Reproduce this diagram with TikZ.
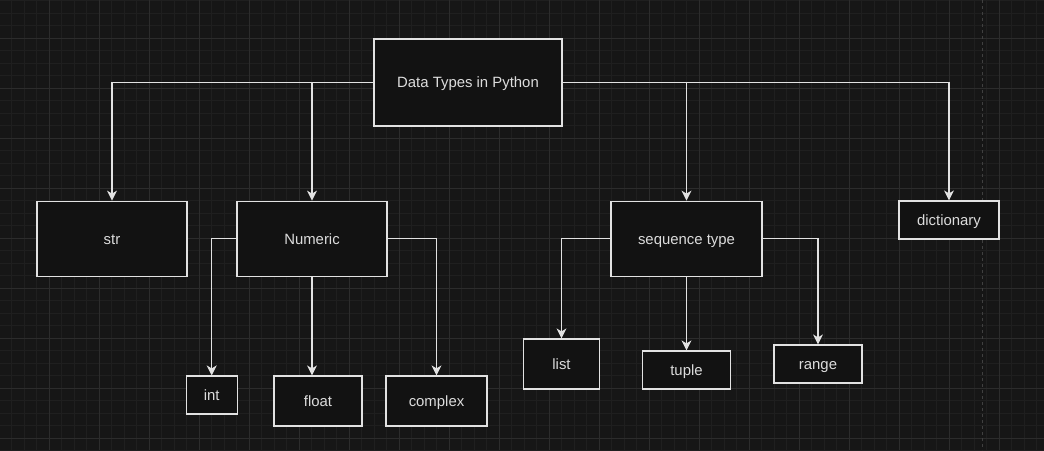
\documentclass[tikz,border=0pt]{standalone}
\usepackage{fontspec}
\setmainfont{Liberation Sans}
\usepackage{tikz}
\usetikzlibrary{arrows.meta}
\definecolor{canvas}{HTML}{161616}
\definecolor{minorline}{HTML}{1F1F1F}
\definecolor{majorline}{HTML}{2C2C2C}
\definecolor{pageline}{HTML}{404040}
\definecolor{boxfill}{HTML}{121212}
\definecolor{boxline}{HTML}{E2E2E2}
\definecolor{boxtext}{HTML}{DCDCDC}
\tikzstyle{block} = [rectangle, draw=boxline, fill=boxfill, text=boxtext,
line width=1.2pt, inner sep=0pt, text height=10.6pt, text depth=0pt,
font=\fontsize{14.9}{17}\selectfont]
\tikzstyle{pijl} = [draw=boxline, line width=1.2pt,
-{Stealth[length=10pt,width=10pt,inset=3pt]}]

\begin{document}
\begin{tikzpicture}[x=1pt, y=-1pt]
	% canvas and grid
	\fill[canvas] (0,0) rectangle (1044,450);
	\useasboundingbox (0,0) rectangle (1044,450);
	\foreach \i in {0,...,84} \draw[minorline, line width=0.8pt] ({-0.7+12.5*\i},0) -- ++(0,450);
	\foreach \i in {0,...,36} \draw[minorline, line width=0.8pt] (0,{0.8+12.5*\i}) -- ++(1044,0);
	\foreach \i in {0,...,20} \draw[majorline, line width=0.8pt] ({49.3+50*\i},0) -- ++(0,450);
	\foreach \i in {0,...,8} \draw[majorline, line width=0.8pt] (0,{38.3+50*\i}) -- ++(1044,0);
	\draw[pageline, line width=1pt, dash pattern=on 3pt off 3pt] (982.7,0) -- (982.7,450);
	
	
	\node [block, minimum width=188pt, minimum height=87pt] (types) at (468,82.5) {Data Types in Python};
	
	\node [block, minimum width=150pt, minimum height=75pt] (str) at (112,238.7) {str};
	\node [block, minimum width=150pt, minimum height=75pt] (numeric) at (312,238.7) {Numeric};
	\node [block, minimum width=151pt, minimum height=75pt] (sequence) at (686.5,238.7) {sequence type};
	\node [block, minimum width=100pt, minimum height=38pt] (dictionary) at (949,220) {dictionary};
	
	
	\node [block, minimum width=51pt, minimum height=38pt] (int) at (211.7,395) {int};
	\node [block, minimum width=88pt, minimum height=50pt] (float) at (318,401) {float};
	\node [block, minimum width=101pt, minimum height=50pt] (complex) at (436.5,401) {complex};
	
	\node [block, minimum width=75.5pt, minimum height=50pt] (list) at (561.5,364) {list};
	\node [block, minimum width=87.5pt, minimum height=38pt] (tuple) at (686.5,370) {tuple};
	\node [block, minimum width=88pt, minimum height=38pt] (range) at (818,364) {range};
	
	
	\path [pijl] (types.west) -| (str.north);
	\path [pijl] (types.west) -| (numeric.north);
	\path [pijl] (types.east) -| (sequence.north);
	\path [pijl] (types.east) -| (dictionary.north);
	
	
	\path [pijl] (numeric.west) -| (int.north);
	\path [pijl] (numeric.south) -- (numeric.south |- float.north);
	\path [pijl] (numeric.east) -| (complex.north);
	
	\path [pijl] (sequence.west) -| (list.north);
	\path [pijl] (sequence.south) -- (tuple.north);
	\path [pijl] (sequence.east) -| (range.north);
\end{tikzpicture}
\end{document}
